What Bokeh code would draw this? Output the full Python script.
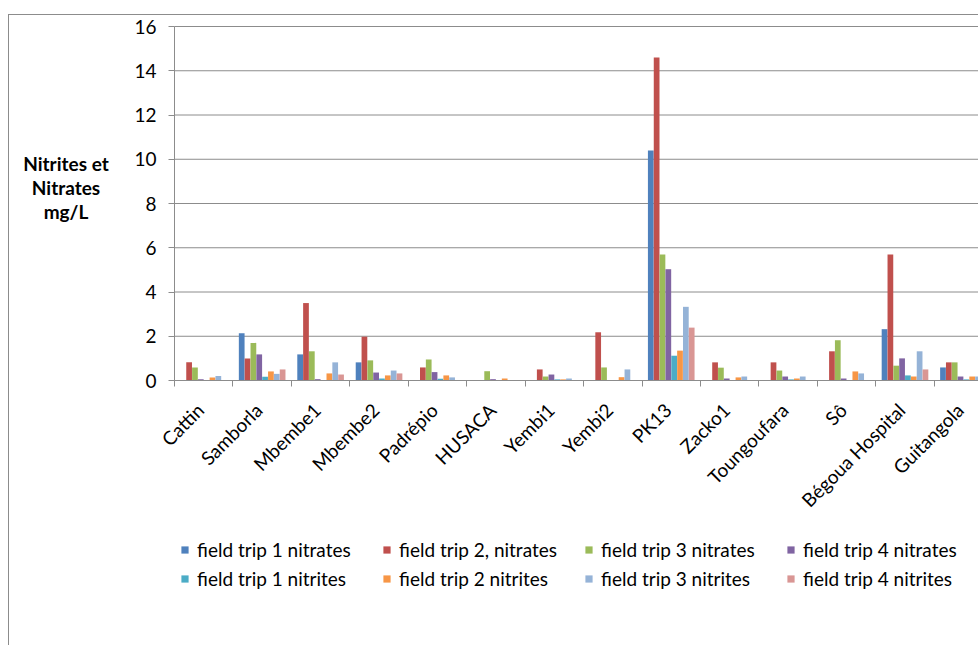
import math
import numpy as np
from bokeh.plotting import figure
from bokeh.layouts import row
from bokeh.models import (ColumnDataSource, Range1d, FixedTicker, Legend, LegendItem, Div)
from bokeh.transform import dodge
from bokeh.embed import file_html
from bokeh.resources import INLINE

sites = ["Cattin", "Samborla", "Mbembe1", "Mbembe2", "Padrépio", "HUSACA", "Yembi1",
         "Yembi2", "PK13", "Zacko1", "Toungoufara", "Sô", "Bégoua Hospital", "Guitangola"]

trip1_nitrates = [0, 2.14, 1.18, 0.82, 0, 0, 0, 0, 10.4, 0, 0, 0, 2.32, 0.59]
trip2_nitrates = [0.83, 1.0, 3.5, 1.98, 0.59, 0, 0.5, 2.18, 14.6, 0.82, 0.82, 1.32, 5.7, 0.82]
trip3_nitrates = [0.59, 1.7, 1.32, 0.91, 0.95, 0.42, 0.18, 0.59, 5.7, 0.58, 0.45, 1.82, 0.67, 0.82]
trip4_nitrates = [0.06, 1.18, 0.06, 0.36, 0.38, 0.06, 0.27, 0, 5.03, 0.09, 0.18, 0.09, 1.0, 0.18]
trip1_nitrites = [0, 0.17, 0, 0.09, 0.08, 0, 0.05, 0, 1.12, 0, 0.05, 0, 0.23, 0.05]
trip2_nitrites = [0.14, 0.41, 0.32, 0.23, 0.23, 0.09, 0.05, 0.15, 1.35, 0.14, 0.09, 0.41, 0.18, 0.18]
trip3_nitrites = [0.2, 0.3, 0.82, 0.45, 0.14, 0, 0.09, 0.5, 3.33, 0.18, 0.18, 0.32, 1.32, 0.18]
trip4_nitrites = [0, 0.5, 0.27, 0.32, 0, 0, 0, 0, 2.39, 0, 0, 0, 0.5, 0.2]

series_labels = ["field trip 1 nitrates", "field trip 2, nitrates", "field trip 3 nitrates",
                 "field trip 4 nitrates", "field trip 1 nitrites", "field trip 2 nitrites",
                 "field trip 3 nitrites", "field trip 4 nitrites"]
series_values = [trip1_nitrates, trip2_nitrates, trip3_nitrates, trip4_nitrates,
                 trip1_nitrites, trip2_nitrites, trip3_nitrites, trip4_nitrites]
colors = ["#4F81BD", "#C0504D", "#9BBB59", "#8064A2",
          "#4BACC6", "#F79646", "#95B3D7", "#D99694"]

y_ticks = [0, 2, 4, 6, 8, 10, 12, 14, 16]
y_title_lines = ["Nitrites et", "Nitrates", "mg/L"]

centers = [i + 0.5 for i in range(len(sites))]
data = {"x": centers}
for k, vals in enumerate(series_values):
    data[f"s{k}"] = vals
src = ColumnDataSource(data)

FONT = "Lato"
LABEL_W = 114
FIG_W = 969 - LABEL_W
FIG_H = 631
TOP = 11                    # space above the top gridline
PX_PER_UNIT = 354 / 16      # value axis scale
CAT_PX = 58.44              # width of one category
AXIS_PX = 51                # value axis sits this far inside the frame
y_top = max(y_ticks)
y_max = y_top + TOP / PX_PER_UNIT
y_min = y_max - FIG_H / PX_PER_UNIT
x_min = -AXIS_PX / CAT_PX
x_max = (FIG_W - AXIS_PX) / CAT_PX

p = figure(width=FIG_W, height=FIG_H, x_range=Range1d(x_min, x_max),
           y_range=Range1d(y_min, y_max),
           output_backend="svg", toolbar_location=None,
           min_border_left=0, min_border_right=0, min_border_top=0, min_border_bottom=0)
p.outline_line_color = None
p.background_fill_color = "white"
p.border_fill_color = "white"

# horizontal gridlines from the value axis to the right edge
p.segment(x0=[0] * len(y_ticks), x1=[x_max] * len(y_ticks), y0=y_ticks, y1=y_ticks,
          line_color="#8c8c8c", line_width=1)

bar_w = 0.1
items = []
for k in range(8):
    off = (k - 3.5) * bar_w
    r = p.vbar(x=dodge("x", off, range=p.x_range), top=f"s{k}", width=bar_w * 0.98,
               source=src, fill_color=colors[k], line_color=None)
    items.append(LegendItem(label=series_labels[k], renderers=[r]))

# category axis, drawn at value 0
label_pos = [c - 0.06 for c in centers]
p.xaxis.fixed_location = 0
p.xaxis.bounds = (0, x_max)
p.xaxis.ticker = FixedTicker(ticks=label_pos, minor_ticks=list(range(len(sites) + 1)))
p.xaxis.major_label_overrides = {c: s for c, s in zip(label_pos, sites)}
p.xaxis.major_label_orientation = math.pi / 4
p.xaxis.major_tick_line_color = None
p.xaxis.minor_tick_in = 0
p.xaxis.minor_tick_out = 6
p.xaxis.minor_tick_line_color = "#8c8c8c"
p.xaxis.axis_line_color = "#8c8c8c"
p.xaxis.major_label_text_font = FONT
p.xaxis.major_label_text_font_size = "19px"
p.xaxis.major_label_text_color = "#000000"
p.xaxis.major_label_standoff = 20

# value axis, drawn at category position 0
p.yaxis.fixed_location = 0
p.yaxis.ticker = FixedTicker(ticks=y_ticks)
p.yaxis.bounds = (0, y_top)
p.yaxis.minor_tick_line_color = None
p.yaxis.major_tick_in = 0
p.yaxis.major_tick_out = 6
p.yaxis.major_tick_line_color = "#8c8c8c"
p.yaxis.axis_line_color = "#8c8c8c"
p.yaxis.major_label_text_font = FONT
p.yaxis.major_label_text_font_size = "19px"
p.yaxis.major_label_text_color = "#000000"
p.yaxis.major_label_standoff = 12

p.xgrid.grid_line_color = None
p.ygrid.grid_line_color = None

legend = Legend(items=items, ncols=4, orientation="horizontal", location=(57, 53))
legend.border_line_color = None
legend.background_fill_alpha = 0
legend.padding = 0
legend.margin = 0
legend.spacing = 0
legend.glyph_width = 9
legend.glyph_height = 9
legend.label_standoff = 8
legend.label_width = 185
legend.label_height = 29
legend.label_text_font = FONT
legend.label_text_font_size = "19px"
legend.label_text_color = "#000000"
p.add_layout(legend)

ylab = Div(text="<br>".join(y_title_lines), width=LABEL_W, height=FIG_H, margin=0,
           styles={"font-family": FONT, "font-weight": "bold", "font-size": "19px",
                   "line-height": "24px", "text-align": "center", "color": "#000000",
                   "padding-top": "137px", "box-sizing": "border-box"})

layout = row(ylab, p, margin=(14, 0, 0, 8), spacing=0,
             styles={"border-left": "1px solid #8c8c8c", "border-top": "1px solid #8c8c8c",
                     "background-color": "white"})

open("out.html", "w").write(file_html(layout, INLINE))
